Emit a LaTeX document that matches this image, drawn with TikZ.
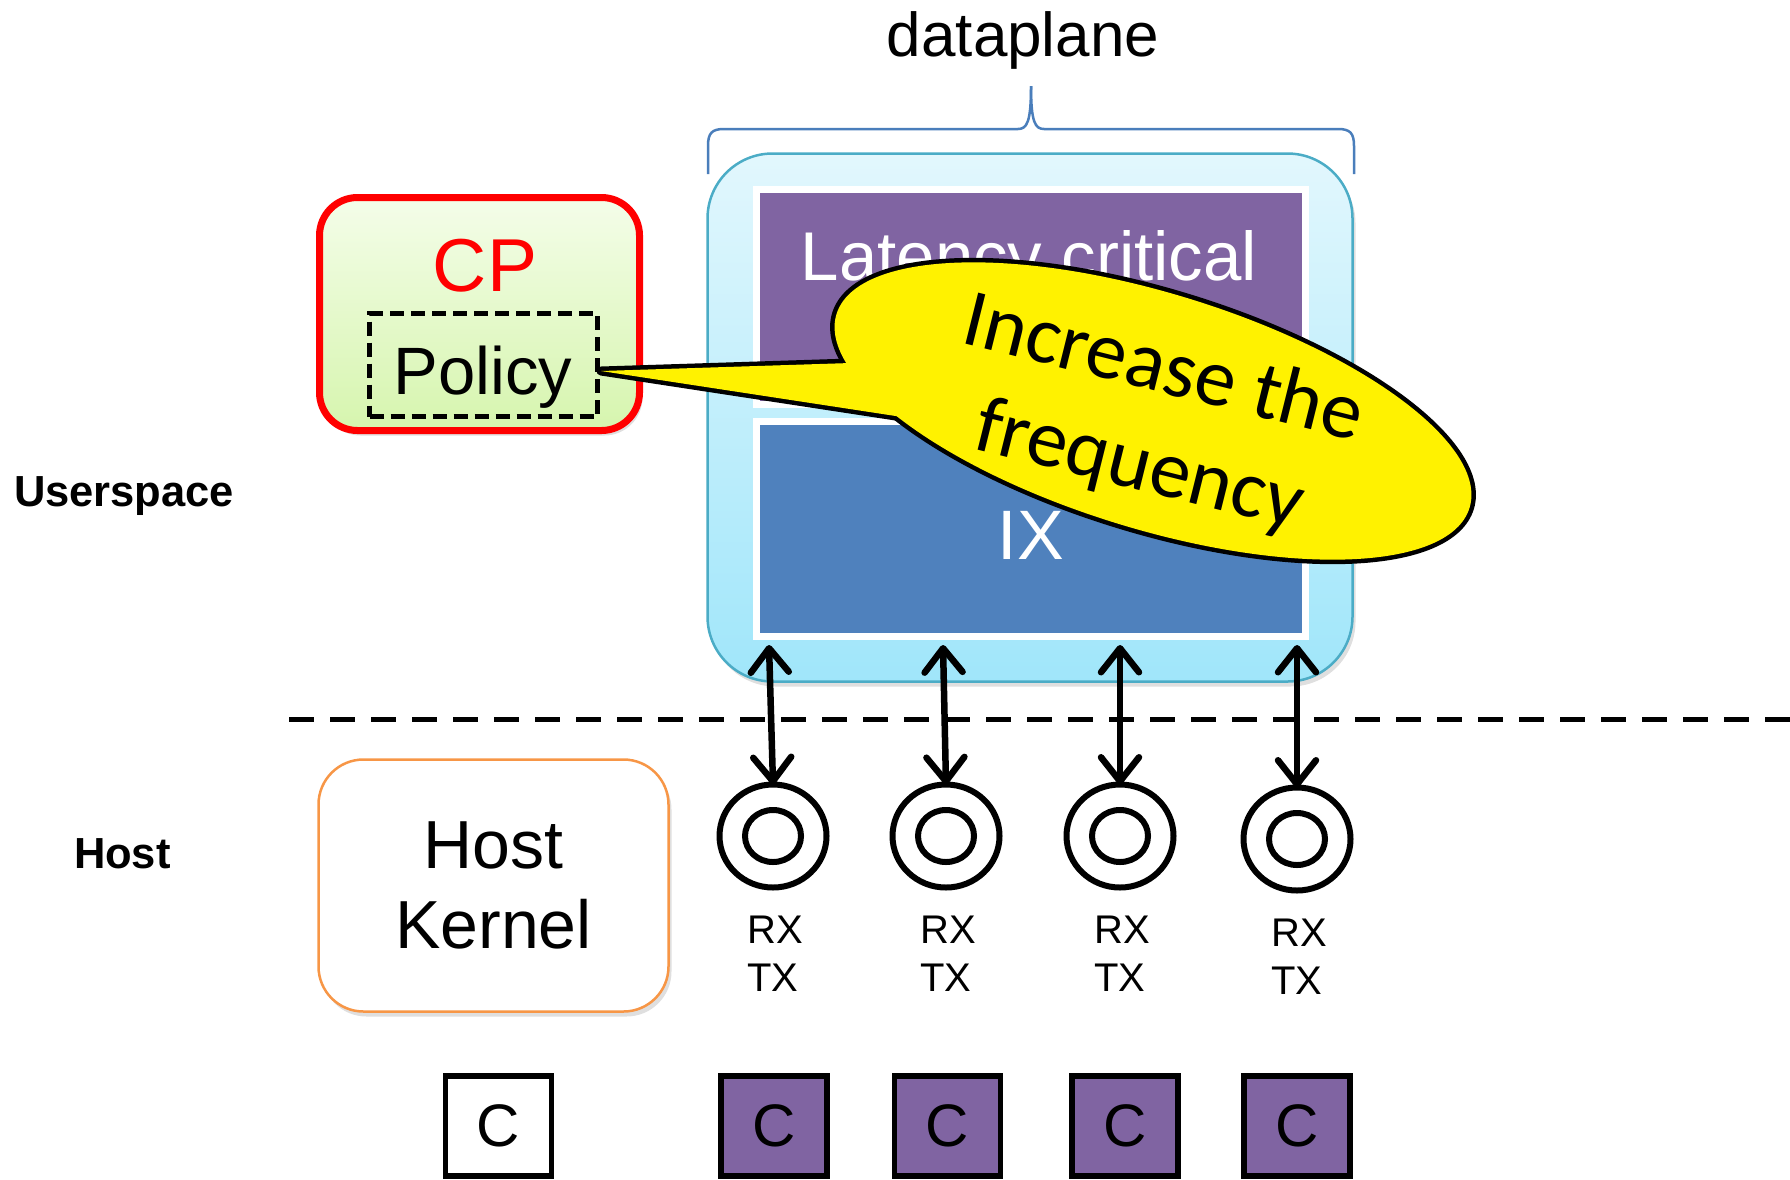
\documentclass[tikz,border=0pt]{standalone}
\usepackage{fontspec}
\setmainfont{Liberation Sans}
\newfontfamily\calloutfont{Carlito}
\usetikzlibrary{arrows.meta,shadows,shapes.geometric}

\definecolor{dppurple}{HTML}{8064A2}
\definecolor{dpblue}{HTML}{4F81BD}
\definecolor{dpedge}{HTML}{4BACC6}
\definecolor{dptop}{HTML}{E2F7FD}
\definecolor{dpbot}{HTML}{A0E6FA}
\definecolor{cptop}{HTML}{F4FDE9}
\definecolor{cpbot}{HTML}{D6F5AE}
\definecolor{kerneledge}{HTML}{F79646}
\definecolor{bracecol}{HTML}{4A7EBB}

\begin{document}
\begin{tikzpicture}[x=1pt,y=-1pt,
  txt/.style={inner sep=0pt, outer sep=0pt, anchor=base},
  shadowed/.style={drop shadow={opacity=0.25, shadow xshift=3pt, shadow yshift=-5pt}},
  panel/.style={draw=white, line width=7pt, inner sep=0pt, minimum width=549pt, minimum height=215pt},
  ringout/.style={ellipse, draw, line width=6pt, inner sep=0pt, outer sep=0pt, minimum width=107pt, minimum height=103pt},
  ringin/.style={ellipse, draw, line width=6pt, inner sep=0pt, minimum width=56pt, minimum height=52pt},
  corebox/.style={draw, line width=5.5pt, inner sep=0pt, minimum width=106pt, minimum height=100pt, font=\fontsize{60}{60}\selectfont},
  biarrow/.style={line width=6.5pt, {Straight Barb[round,length=24pt,width=38pt]}-{Straight Barb[round,length=24pt,width=38pt]}},
  bubble/.style={ellipse, rotate=-17, inner sep=0pt, minimum width=662pt, minimum height=236pt},
]
\useasboundingbox (0,0) rectangle (1790,1179);

% dataplane container
\node[draw=dpedge, line width=2.5pt, rounded corners=65pt, top color=dptop, bottom color=dpbot,
      minimum width=645pt, minimum height=528pt, inner sep=0pt, shadowed] (dp) at (1030,417.5) {};
\node[panel, fill=dppurple] (lat) at (1031,297) {};
\node[panel, fill=dpblue] (ix) at (1031,529) {};
\node[txt, text=white, font=\fontsize{69}{69}\selectfont] (latt) at (1029,280) {Latency critical};
\node[txt, text=white, font=\fontsize{70}{70}\selectfont] (ixt) at (1031,559) {IX};

% brace and its label
\draw[bracecol, line width=2.5pt] (708,174) -- (708,146) .. controls (708,133) and (712,129) .. (724,129)
  -- (1018,129) .. controls (1027,129) and (1031,122) .. (1031,86);
\draw[bracecol, line width=2.5pt] (1031,86) .. controls (1031,122) and (1035,129) .. (1044,129)
  -- (1338,129) .. controls (1350,129) and (1354,133) .. (1354,146) -- (1354,174);
\node[txt, font=\fontsize{62}{62}\selectfont] (dpl) at (1023,56) {dataplane};

% control plane
\node[draw=red, line width=7pt, rounded corners=38pt, top color=cptop, bottom color=cpbot,
      minimum width=320pt, minimum height=233pt, inner sep=0pt, shadowed] (cp) at (479.5,314) {};
\node[txt, text=red, font=\fontsize{75}{75}\selectfont] (cpt) at (485,291) {CP};
\node[draw, line width=4.5pt, dash pattern=on 14pt off 7pt, minimum width=228pt, minimum height=103pt,
      inner sep=0pt] (pol) at (483.5,365) {};
\node[txt, font=\fontsize{67}{67}\selectfont] (polt) at (483,394) {Policy};

% side labels
\node[txt, anchor=base west, font=\bfseries\fontsize{43.5}{43.5}\selectfont] (us) at (14,506) {Userspace};
\node[txt, anchor=base west, font=\bfseries\fontsize{43.5}{43.5}\selectfont] (hs) at (74,868) {Host};

% user/kernel boundary
\coordinate (dl) at (289,719);
\coordinate (dr) at (1790,719);
\draw[line width=5pt, dash pattern=on 25pt off 16pt] (dl) -- (dr);

% host kernel
\node[draw=kerneledge, line width=2.5pt, rounded corners=45pt, fill=white, minimum width=350pt,
      minimum height=252pt, inner sep=0pt, shadowed, align=center, font=\fontsize{68}{80}\selectfont]
      (hk) at (493.5,885.5) {Host\\Kernel};

% NIC queues
\foreach \i/\x/\y/\tx in {1/773/836/769, 2/946/836/943, 3/1120/836/1120, 4/1297/839/1297} {
  \node[ringout] (r\i) at (\x,\y) {};
  \node[ringin] (ri\i) at (\x,\y) {};
  \coordinate (t\i) at (\tx,645);
  \draw[biarrow] (t\i) -- (r\i.north);
  \node[txt, font=\fontsize{40}{40}\selectfont] (rx\i) at (\x+2,\y+107) {RX};
  \node[txt, font=\fontsize{40}{40}\selectfont] (tx\i) at (\x,\y+155) {TX};
}

% cores
\node[corebox, fill=white] (c0) at (498.5,1126) {C};
\foreach \i/\x in {1/774, 2/947.5, 3/1125, 4/1297}
  \node[corebox, fill=dppurple] (c\i) at (\x,1126) {C};

% speech bubble
\coordinate (tip) at (601,371);
\coordinate (wu) at (913,361);
\coordinate (wl) at (948,424);
\node[bubble, draw, line width=9pt] (bub) at (1153,411) {};
\draw[line width=9pt, line join=round] (tip) -- (wu) -- (wl) -- cycle;
\fill[yellow] (tip) -- (wu) -- (wl) -- cycle;
\node[bubble, fill=yellow] (bubf) at (bub.center) {};
\node[font=\calloutfont\fontsize{82}{100}\selectfont, rotate=-14, align=center, inner sep=0pt]
  (say) at (1151,419) {Increase the\\frequency};
\end{tikzpicture}
\end{document}
